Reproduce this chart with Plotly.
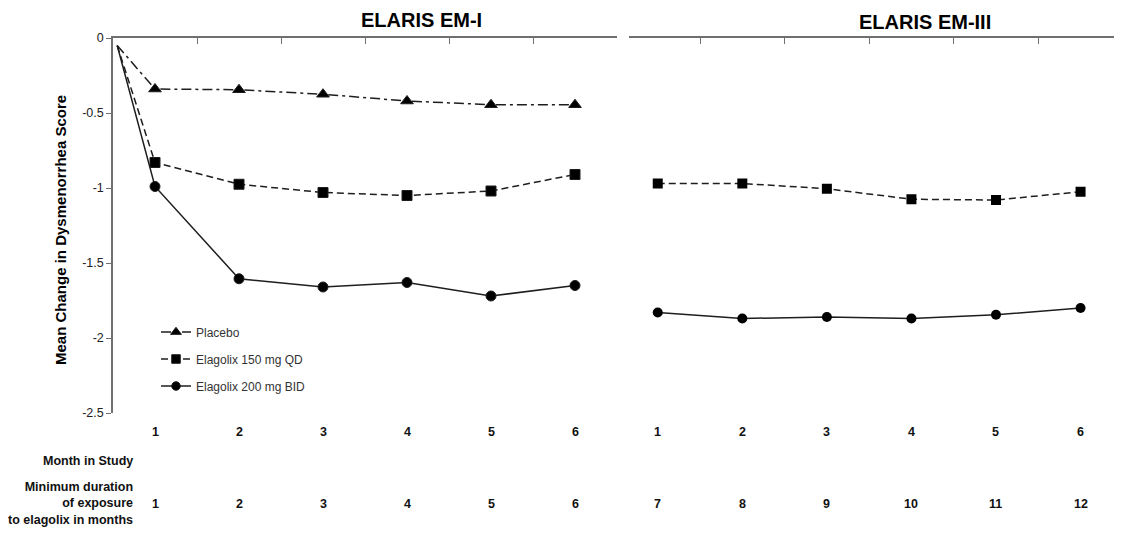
import plotly.graph_objects as go

# ---------------- data ----------------
baseline_x = [0.55]
baseline_value = [-0.05]

months_em1 = [1, 2, 3, 4, 5, 6]
months_em3 = [7, 8, 9, 10, 11, 12]

month_labels_em1 = ["1", "2", "3", "4", "5", "6"]
month_labels_em3 = ["1", "2", "3", "4", "5", "6"]
exposure_labels = ["1", "2", "3", "4", "5", "6", "7", "8", "9", "10", "11", "12"]

placebo_em1 = [-0.34, -0.345, -0.375, -0.42, -0.445, -0.445]
qd150_em1 = [-0.83, -0.975, -1.03, -1.05, -1.02, -0.91]
bid200_em1 = [-0.99, -1.605, -1.66, -1.63, -1.72, -1.65]

qd150_em3 = [-0.97, -0.97, -1.005, -1.075, -1.08, -1.025]
bid200_em3 = [-1.83, -1.87, -1.86, -1.87, -1.845, -1.80]

series_names = ["Placebo", "Elagolix 150 mg QD", "Elagolix 200 mg BID"]
y_ticks = [0, -0.5, -1, -1.5, -2, -2.5]
y_tick_text = ["0", "-0.5", "-1", "-1.5", "-2", "-2.5"]

# ---------------- style ----------------
OFF = 8                      # page body margin of the browser
W, H = 1122 - OFF, 533 - OFF
MT = 38 - OFF
PLOT_BOTTOM = 413 - OFF
MB = H - PLOT_BOTTOM
PLOT_H = PLOT_BOTTOM - MT
FONT = "Liberation Sans, Arial, sans-serif"
LINE_C = "#1e1e1e"
AXIS_C = "#707070"


def py(ref_y):
    """reference-screen pixel y -> paper y"""
    return (PLOT_BOTTOM - (ref_y - OFF)) / PLOT_H


def pxx(ref_x):
    """reference-screen pixel x -> paper x"""
    return (ref_x - OFF) / W


styles = {
    "Placebo": dict(dash="10px,4px,3px,4px", symbol="triangle-up", size=11),
    "Elagolix 150 mg QD": dict(dash="7px,4px", symbol="square", size=10),
    "Elagolix 200 mg BID": dict(dash="solid", symbol="circle", size=10),
}

fig = go.Figure()

left_data = [placebo_em1, qd150_em1, bid200_em1]
for name, vals in zip(series_names, left_data):
    st = styles[name]
    fig.add_trace(go.Scatter(
        x=baseline_x + months_em1,
        y=baseline_value + vals,
        mode="lines+markers",
        name=name,
        legendgroup=name,
        line=dict(color=LINE_C, width=1.5, dash=st["dash"]),
        marker=dict(symbol=st["symbol"], color="black", opacity=1,
                    size=[0] + [st["size"]] * len(vals)),
        xaxis="x", yaxis="y",
        cliponaxis=False,
    ))

right_data = [(series_names[1], qd150_em3), (series_names[2], bid200_em3)]
for name, vals in right_data:
    st = styles[name]
    fig.add_trace(go.Scatter(
        x=months_em3, y=vals,
        mode="lines+markers",
        name=name,
        legendgroup=name,
        showlegend=False,
        line=dict(color=LINE_C, width=1.5, dash=st["dash"]),
        marker=dict(symbol=st["symbol"], color="black", opacity=1, size=st["size"]),
        xaxis="x2", yaxis="y",
        cliponaxis=False,
    ))

annotations = []
# panel titles
annotations.append(dict(text="ELARIS EM-I", xref="paper", yref="paper",
                        x=pxx(421), y=py(OFF), xanchor="center", yanchor="top",
                        showarrow=False, borderpad=0,
                        font=dict(family=FONT, size=20, color="black", weight="bold")))
annotations.append(dict(text="ELARIS EM-III", xref="paper", yref="paper",
                        x=pxx(925), y=py(22), xanchor="center", yanchor="middle",
                        showarrow=False,
                        font=dict(family=FONT, size=20, color="black", weight="bold")))
# y axis title
annotations.append(dict(text="Mean Change in Dysmenorrhea Score", xref="paper", yref="paper",
                        x=pxx(60), y=py(230), xanchor="center", yanchor="middle",
                        textangle=-90, showarrow=False,
                        font=dict(family=FONT, size=15, color="black", weight="bold")))

lab_font = dict(family=FONT, size=12.5, color="#111", weight="bold")
# month labels row
for xv, t in zip(months_em1, month_labels_em1):
    annotations.append(dict(text=t, xref="x", yref="paper", x=xv, y=py(432),
                            xanchor="center", yanchor="middle", showarrow=False, font=lab_font))
for xv, t in zip(months_em3, month_labels_em3):
    annotations.append(dict(text=t, xref="x2", yref="paper", x=xv, y=py(432),
                            xanchor="center", yanchor="middle", showarrow=False, font=lab_font))
# exposure labels row
for xv, t in zip(months_em1 + months_em3, exposure_labels):
    annotations.append(dict(text=t, xref="x" if xv <= 6 else "x2", yref="paper", x=xv,
                            y=py(503.5), xanchor="center", yanchor="middle",
                            showarrow=False, font=lab_font))
# row headers
annotations.append(dict(text="Month in Study", xref="paper", yref="paper",
                        x=pxx(135), y=py(461), xanchor="right", yanchor="middle",
                        showarrow=False, font=lab_font))
annotations.append(dict(text="Minimum duration<br>of exposure<br>to elagolix in months",
                        xref="paper", yref="paper", align="right",
                        x=pxx(135), y=py(504), xanchor="right", yanchor="middle",
                        showarrow=False, font=lab_font))

fig.update_layout(
    width=W, height=H,
    margin=dict(l=0, r=0, t=MT, b=MB),
    paper_bgcolor="white", plot_bgcolor="white",
    font=dict(family=FONT, size=12, color="#222"),
    showlegend=True,
    legend=dict(x=pxx(156), y=py(317.5), xanchor="left", yanchor="top",
                bgcolor="rgba(0,0,0,0)", tracegroupgap=8,
                font=dict(family=FONT, size=12, color="#333")),
    xaxis=dict(domain=[pxx(113), pxx(617)], range=[0.5, 6.5], side="top",
               showline=True, linecolor=AXIS_C, linewidth=1.5,
               ticks="inside", ticklen=6, tickcolor=AXIS_C, tickwidth=1.2,
               tickvals=[1.5, 2.5, 3.5, 4.5, 5.5, 6.5], showticklabels=False,
               showgrid=False, zeroline=False, anchor="y"),
    xaxis2=dict(domain=[pxx(629), 1.0], range=[6.66, 12.49], side="top",
                showline=True, linecolor=AXIS_C, linewidth=1.5,
                ticks="inside", ticklen=6, tickcolor=AXIS_C, tickwidth=1.2,
                tickvals=[7.5, 8.5, 9.5, 10.5, 11.5], showticklabels=False,
                showgrid=False, zeroline=False, anchor="y"),
    yaxis=dict(domain=[0, 1], range=[-2.5, 0], anchor="x",
               showline=True, linecolor=AXIS_C, linewidth=1.5,
               ticks="outside", ticklen=5, tickcolor=AXIS_C, tickwidth=1.2,
               tickvals=y_ticks, ticktext=y_tick_text,
               tickfont=dict(family=FONT, size=12.5, color="#222"),
               showgrid=False, zeroline=False),
    annotations=annotations,
)

fig.write_html("out.html")
